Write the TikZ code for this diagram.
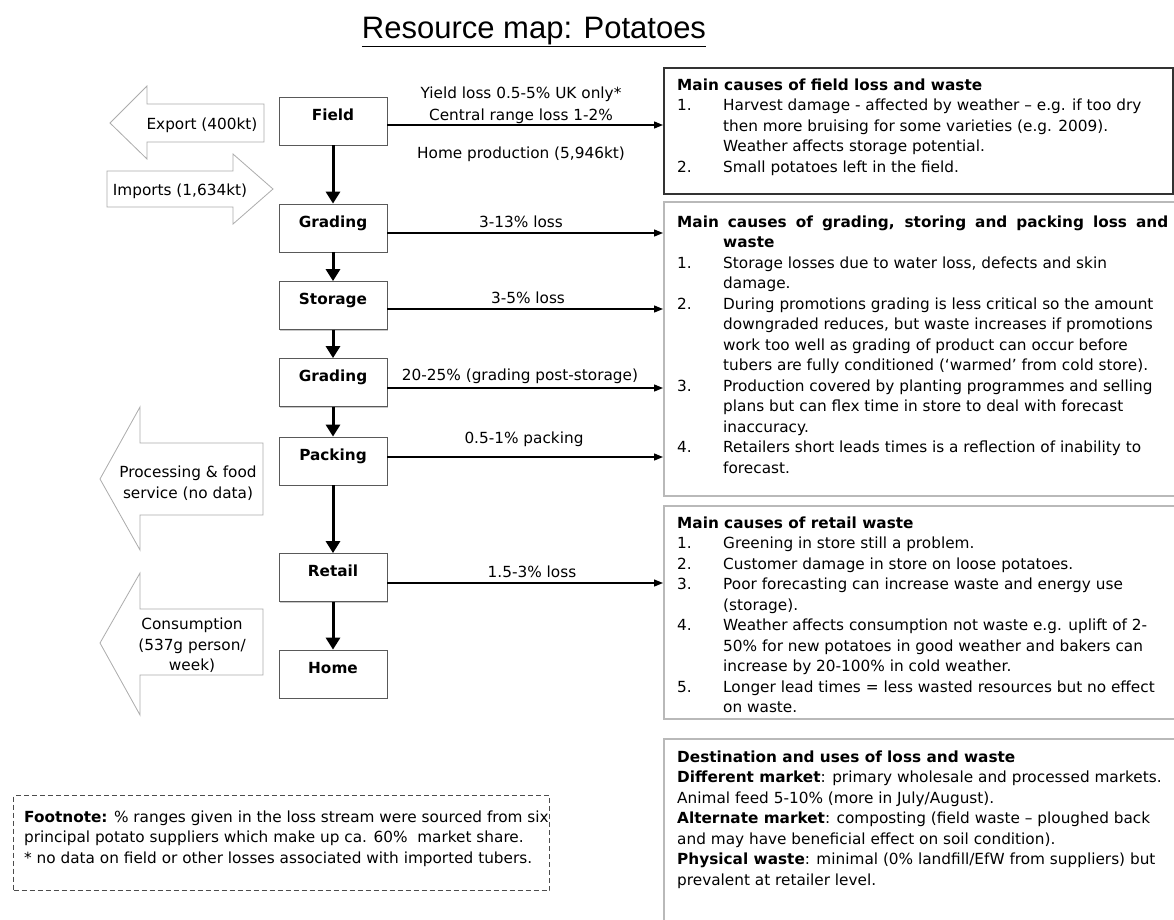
\documentclass[tikz,border=0pt]{standalone}
\usepackage{fontspec}
\setmainfont{DejaVu Sans}
\newfontfamily\titlefont{Liberation Sans}
\usepackage{tikz}
\usetikzlibrary{arrows.meta,shadows}
\newcommand{\bodysize}{\fontsize{15.3}{20.5}\selectfont}
\tikzstyle{stage} = [draw=gray!70!black, fill=white, line width=0.8pt, minimum width=108pt, minimum height=48pt, inner ysep=11pt, text height=12pt, text depth=14pt, font=\bodysize\bfseries, drop shadow={shadow xshift=1.2pt, shadow yshift=-1.2pt, fill=gray!60, opacity=0.7}]
\tikzstyle{causebox} = [draw=gray!55, line width=1.5pt, fill=white, anchor=north west, inner sep=0pt]
\tikzstyle{notebox} = [draw=gray!60!black, line width=1pt, dash pattern=on 5pt off 3pt, anchor=north west, inner sep=0pt]
\tikzstyle{blockarrow} = [draw=gray!65, line width=0.8pt, fill=white]
\tikzstyle{flow} = [line width=3pt, -{Triangle[width=14pt,length=12pt]}]
\tikzstyle{lossarrow} = [line width=1.3pt, -{Triangle[width=7pt,length=9pt]}]

\begin{document}
\begin{tikzpicture}[x=1pt, y=-1pt]
			\tikzset{every node/.style={font=\bodysize, inner sep=0pt}, loss/.style={anchor=base}}
\useasboundingbox (0,0) rectangle (1174,919);
\fill[white] (0,0) rectangle (1174,919);

\node[font=\titlefont\fontsize{31}{36}\selectfont, anchor=base] (title) at (534,38) {\underline{Resource map: Potatoes}};

\node[stage] (field) at (333,121) {Field};
\node[stage] (grading) at (333,228) {Grading};
\node[stage] (storage) at (333,305.5) {Storage};
\node[stage] (regrading) at (333,382.5) {Grading};
\node[stage] (packing) at (333,461) {Packing};
\node[stage] (retail) at (333,577.5) {Retail};
\node[stage] (home) at (333,674) {Home};

\foreach \from/\to in {field/grading,grading/storage,storage/regrading,regrading/packing,packing/retail,retail/home}
{
	\draw[flow] (\from) -- (\to);
}

\node[causebox, draw=black!80, line width=2.2pt, minimum width=509pt, minimum height=126pt] (fieldbox) at (663,67) {};
\node[causebox, minimum width=540pt, minimum height=294pt] (stockbox) at (663,201) {};
\node[causebox, minimum width=540pt, minimum height=213pt] (retailbox) at (663,505) {};
\node[causebox, minimum width=540pt, minimum height=200pt] (destbox) at (663,738) {};

\foreach \from/\to/\dy in {field/fieldbox/-4,grading/stockbox/-5,storage/stockbox/-3.5,regrading/stockbox/-5.5,packing/stockbox/4,retail/retailbox/-5.5}
{
	\draw[lossarrow] ([yshift=\dy pt]\from.east) -- ([yshift=\dy pt]\from.east -| \to.west);
}

\node[loss] (yield) at (521,98.5) {Yield loss 0.5-5\% UK only*};
\node[loss] (central) at (521,120.5) {Central range loss 1-2\%};
\node[loss] (homeprod) at (521,158.5) {Home production (5,946kt)};
\node[loss] (gradeloss) at (521,227.5) {3-13\% loss};
\node[loss] (storeloss) at (528,303.5) {3-5\% loss};
\node[loss] (postloss) at (520,380.5) {20-25\% (grading post-storage)};
\node[loss] (packloss) at (524,443.5) {0.5-1\% packing};
\node[loss] (retailloss) at (532,577.5) {1.5-3\% loss};

\draw[blockarrow] (264,104) -- (147,104) -- (147,86) -- (110,123) -- (147,159) -- (147,142) -- (264,142) -- cycle;
\draw[blockarrow] (107,171) -- (233,171) -- (233,154) -- (273,189) -- (233,224) -- (233,207) -- (107,207) -- cycle;
\draw[blockarrow] (263,443) -- (140,443) -- (140,407) -- (100,479) -- (140,550) -- (140,515) -- (263,515) -- cycle;
\draw[blockarrow] (263,609) -- (140,609) -- (140,573) -- (100,643) -- (140,715) -- (140,675) -- (263,675) -- cycle;

\node[loss] (export) at (202,129.5) {Export (400kt)};
\node[loss] (imports) at (180,195) {Imports (1,634kt)};
\node[loss] (processing) at (188,477.5) {\begin{tabular}[t]{@{}c@{}}Processing \& food\\service (no data)\end{tabular}};
\node[loss] (consumption) at (192,629.5) {\begin{tabular}[t]{@{}c@{}}Consumption\\(537g person/\\week)\end{tabular}};

\node[anchor=base west] (fieldcauses) at (677,90) {\begin{tabular}[t]{@{}p{46pt}@{}l@{}}
\multicolumn{2}{@{}l@{}}{\bfseries Main causes of field loss and waste}\\
1. & Harvest damage - affected by weather – e.g. if too dry\\
 & then more bruising for some varieties (e.g. 2009).\\
 & Weather affects storage potential.\\
2. & Small potatoes left in the field.
\end{tabular}};

\node[anchor=base west] (stockcauses) at (677,227) {\begin{tabular}[t]{@{}p{46pt}@{}l@{}}
\multicolumn{2}{@{}l@{}}{\makebox[491pt][s]{\bfseries Main causes of grading, storing and packing loss and}}\\
 & \bfseries waste\\
1. & Storage losses due to water loss, defects and skin\\
 & damage.\\
2. & During promotions grading is less critical so the amount\\
 & downgraded reduces, but waste increases if promotions\\
 & work too well as grading of product can occur before\\
 & tubers are fully conditioned (‘warmed’ from cold store).\\
3. & Production covered by planting programmes and selling\\
 & plans but can flex time in store to deal with forecast\\
 & inaccuracy.\\
4. & Retailers short leads times is a reflection of inability to\\
 & forecast.
\end{tabular}};

\node[anchor=base west] (retailcauses) at (677,528) {\begin{tabular}[t]{@{}p{46pt}@{}l@{}}
\multicolumn{2}{@{}l@{}}{\bfseries Main causes of retail waste}\\
1. & Greening in store still a problem.\\
2. & Customer damage in store on loose potatoes.\\
3. & Poor forecasting can increase waste and energy use\\
 & (storage).\\
4. & Weather affects consumption not waste e.g. uplift of 2-\\
 & 50\% for new potatoes in good weather and bakers can\\
 & increase by 20-100\% in cold weather.\\
5. & Longer lead times = less wasted resources but no effect\\
 & on waste.
\end{tabular}};

\node[anchor=base west] (destuses) at (677,762) {\begin{tabular}[t]{@{}l@{}}
\bfseries Destination and uses of loss and waste\\
\textbf{Different market}: primary wholesale and processed markets.\\
Animal feed 5-10\% (more in July/August).\\
\textbf{Alternate market}: composting (field waste – ploughed back\\
and may have beneficial effect on soil condition).\\
\textbf{Physical waste}: minimal (0\% landfill/EfW from suppliers) but\\
prevalent at retailer level.
\end{tabular}};

\node[notebox, minimum width=536pt, minimum height=95pt] (notebox) at (13,795) {};
\node[anchor=base west] (footnote) at (24,822) {\begin{tabular}[t]{@{}l@{}}
\textbf{Footnote:} \% ranges given in the loss stream were sourced from six\\
principal potato suppliers which make up ca. 60\%\ \ market share.\\
{*} no data on field or other losses associated with imported tubers.
\end{tabular}};

		\end{tikzpicture}
\end{document}
